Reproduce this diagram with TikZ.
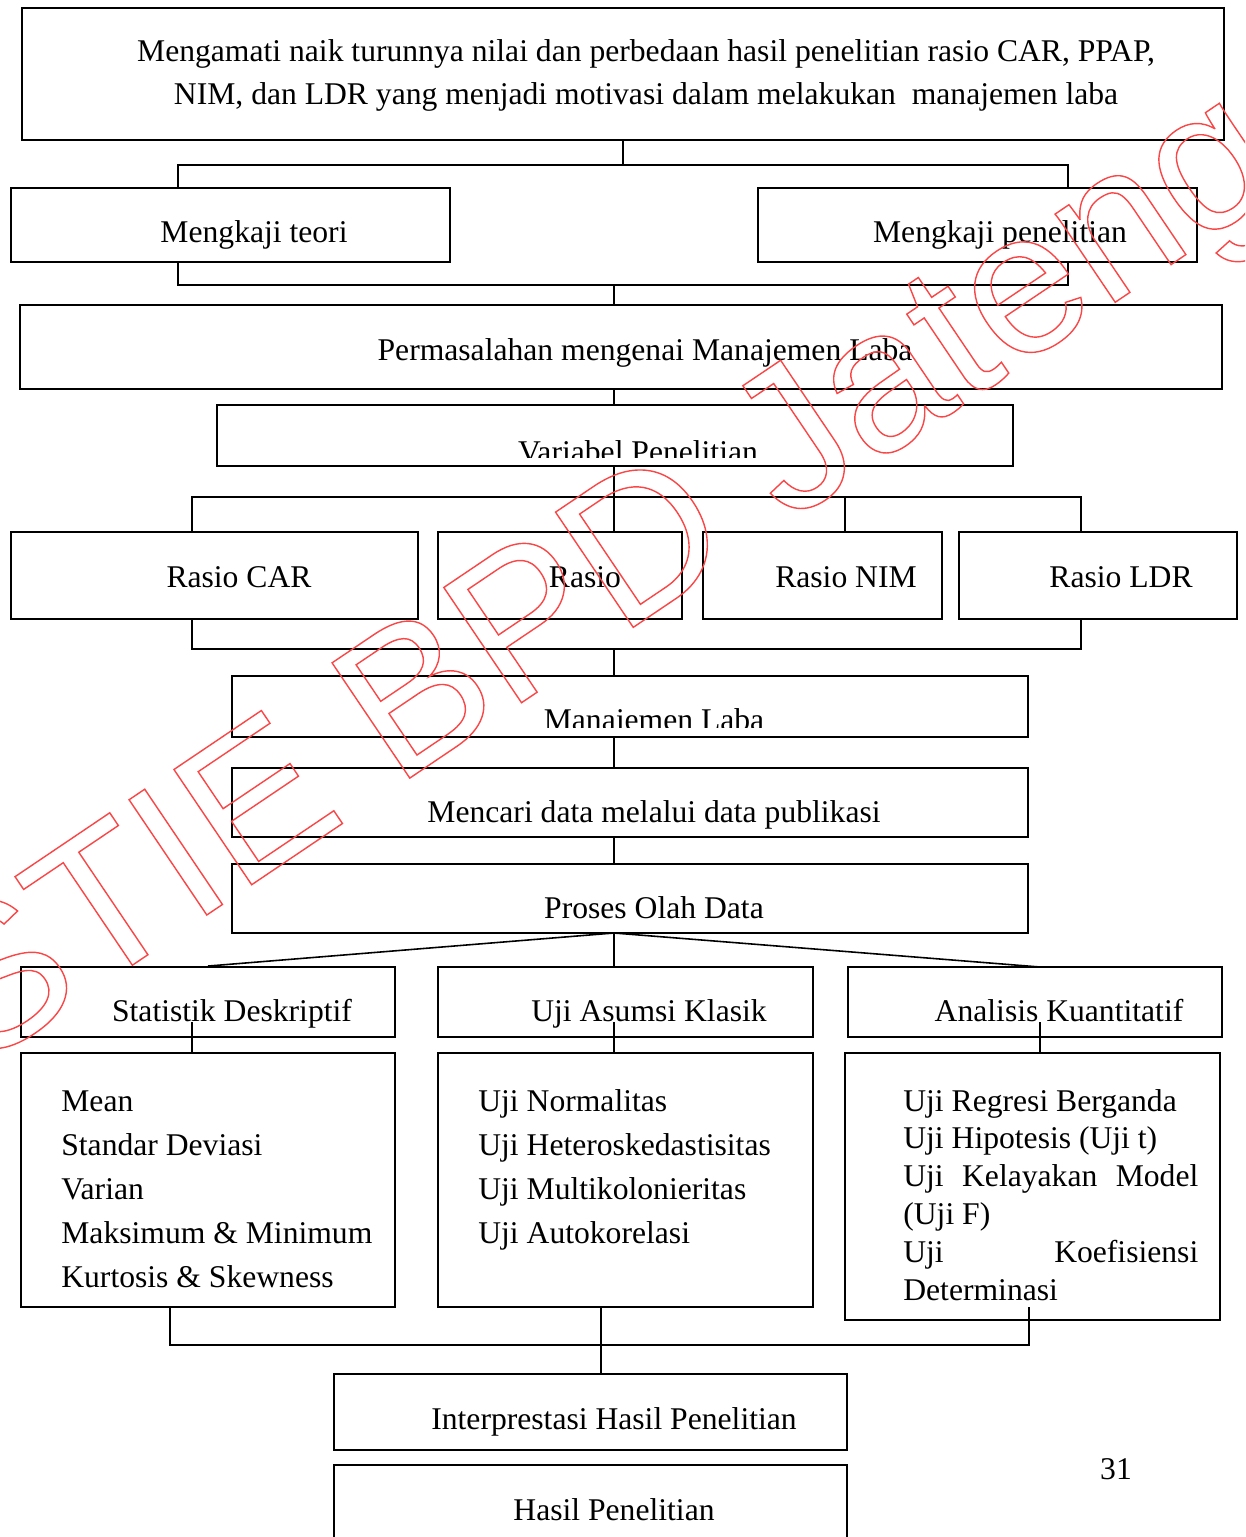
\documentclass[tikz,border=0pt]{standalone}
\usepackage{fontspec}
\setmainfont{Liberation Serif}
\newfontfamily\wmfont{Liberation Sans}
\usetikzlibrary{calc,positioning}
\definecolor{merahwm}{RGB}{250,70,70}

\begin{document}
\begin{tikzpicture}[x=0.02cm,y=-0.02cm,
    kotak/.style={draw,line width=1.1pt,inner sep=0pt},
    garis/.style={line width=0.9pt},
    teks/.style={inner sep=0pt,anchor=base,font=\fontsize{18}{25}\selectfont}]
  \useasboundingbox (0,0) rectangle (1245,1537);
  \clip (0,0) rectangle (1245,1537);

  % kotak-kotak
  \node[kotak,minimum width=24.04cm,minimum height=2.64cm] (atas) at (623,74) {};
  \node[kotak,minimum width=8.78cm,minimum height=1.48cm] (teori) at (230.5,225) {};
  \node[kotak,minimum width=8.78cm,minimum height=1.48cm] (penelitian) at (977.5,225) {};
  \node[kotak,minimum width=24.04cm,minimum height=1.68cm] (masalah) at (621,347) {};
  \node[kotak,minimum width=15.92cm,minimum height=1.22cm] (variabel) at (615,435.5) {};
  \node[kotak,minimum width=8.14cm,minimum height=1.74cm] (car) at (214.5,575.5) {};
  \node[kotak,minimum width=4.88cm,minimum height=1.74cm] (ppap) at (560,575.5) {};
  \node[kotak,minimum width=4.78cm,minimum height=1.74cm] (nim) at (822.5,575.5) {};
  \node[kotak,minimum width=5.56cm,minimum height=1.74cm] (ldr) at (1098,575.5) {};
  \node[kotak,minimum width=15.92cm,minimum height=1.22cm] (manajemen) at (630,706.5) {};
  \node[kotak,minimum width=15.92cm,minimum height=1.38cm] (mencari) at (630,802.5) {};
  \node[kotak,minimum width=15.92cm,minimum height=1.38cm] (proses) at (630,898.5) {};
  \node[kotak,minimum width=7.48cm,minimum height=1.4cm] (statistik) at (208,1002) {};
  \node[kotak,minimum width=7.5cm,minimum height=1.4cm] (asumsi) at (625.5,1002) {};
  \node[kotak,minimum width=7.48cm,minimum height=1.4cm] (analisis) at (1035,1002) {};
  \node[kotak,minimum width=7.48cm,minimum height=5.08cm] (isi-stat) at (208,1180) {};
  \node[kotak,minimum width=7.5cm,minimum height=5.08cm] (isi-asumsi) at (625.5,1180) {};
  \node[kotak,minimum width=7.5cm,minimum height=5.34cm] (isi-analisis) at (1032.5,1186.5) {};
  \node[kotak,minimum width=10.26cm,minimum height=1.52cm] (interpretasi) at (590.5,1412) {};
  \node[kotak,minimum width=10.26cm,minimum height=1.7cm] (hasil) at (590.5,1507.5) {};

  % teks (base dari teks berbaris banyak = baris terakhir)
  \node[teks,align=center] (atas-t) at (646,105) {Mengamati naik turunnya nilai dan perbedaan hasil penelitian rasio CAR, PPAP,\\NIM, dan LDR yang menjadi motivasi dalam melakukan\ \ manajemen laba};
  \node[teks] (teori-t) at (254,243) {Mengkaji teori};
  \node[teks] (penelitian-t) at (1000,243) {Mengkaji penelitian};
  \node[teks] (masalah-t) at (645,360) {Permasalahan mengenai Manajemen Laba};
  \begin{scope}
    \clip (variabel.north west) rectangle ([yshift=0.18cm]variabel.south east);
    \node[teks] (variabel-t) at (638,462) {Variabel Penelitian};
  \end{scope}
  \node[teks] (car-t) at (239,587) {Rasio CAR};
  \node[teks] (ppap-t) at (585,587) {Rasio};
  \node[teks] (nim-t) at (846,587) {Rasio NIM};
  \node[teks] (ldr-t) at (1121,587) {Rasio LDR};
  \begin{scope}
    \clip (manajemen.north west) rectangle ([yshift=0.2cm]manajemen.south east);
    \node[teks] (manajemen-t) at (654,730) {Manajemen Laba};
  \end{scope}
  \node[teks] (mencari-t) at (654,822) {Mencari data melalui data publikasi};
  \node[teks] (proses-t) at (654,918) {Proses Olah Data};
  \node[teks] (statistik-t) at (232,1021) {Statistik Deskriptif};
  \node[teks] (asumsi-t) at (649,1021) {Uji Asumsi Klasik};
  \node[teks] (analisis-t) at (1059,1021) {Analisis Kuantitatif};
  \node[teks,anchor=base west,align=left] (isi-stat-t) at (61,1287)
    {Mean\\Standar Deviasi\\Varian\\Maksimum \& Minimum\\Kurtosis \& Skewness};
  \node[teks,anchor=base west,align=left] (isi-asumsi-t) at (478,1243)
    {Uji Normalitas\\Uji Heteroskedastisitas\\Uji Multikolonieritas\\Uji Autokorelasi};
  \node[teks,anchor=base west,align=left,font=\fontsize{18}{21.5}\selectfont] (isi-analisis-t) at (903,1300)
    {Uji Regresi Berganda\\Uji Hipotesis (Uji t)\\\makebox[5.9cm][s]{Uji Kelayakan Model}\\(Uji F)\\\makebox[5.9cm][s]{Uji Koefisiensi}\\Determinasi};
  \node[teks] (interpretasi-t) at (614,1429) {Interprestasi Hasil Penelitian};
  \node[teks] (hasil-t) at (614,1520) {Hasil Penelitian};
  \node[teks] (hal) at (1116,1479) {31};

  % garis penghubung
  \coordinate (b1l) at (178,165);
  \coordinate (b1r) at (1068,165);
  \draw[garis] (atas.south) -- (atas.south |- b1l);
  \draw[garis] (b1l |- teori.north) -- (b1l) -- (b1r) -- (b1r |- penelitian.north);
  \coordinate (b2l) at (178,285);
  \coordinate (b2r) at (1068,285);
  \coordinate (b2m) at (614,285);
  \draw[garis] (b2l |- teori.south) -- (b2l) -- (b2r) -- (b2r |- penelitian.south);
  \draw[garis] (b2m) -- (b2m |- masalah.north);
  \draw[garis] (b2m |- masalah.south) -- (b2m |- variabel.north);
  \coordinate (b3l) at (192,497);
  \coordinate (b3r) at (1081,497);
  \coordinate (b3n) at (845,497);
  \draw[garis] (b3l |- car.north) -- (b3l) -- (b3r) -- (b3r |- ldr.north);
  \draw[garis] (b2m |- variabel.south) -- (b2m |- ppap.north);
  \draw[garis] (b3n) -- (b3n |- nim.north);
  \coordinate (b4l) at (192,649);
  \coordinate (b4r) at (1081,649);
  \coordinate (b4m) at (614,649);
  \draw[garis] (b4l |- car.south) -- (b4l) -- (b4r) -- (b4r |- ldr.south);
  \draw[garis] (b4m) -- (b4m |- manajemen.north);
  \draw[garis] (b4m |- manajemen.south) -- (b4m |- mencari.north);
  \draw[garis] (b4m |- mencari.south) -- (b4m |- proses.north);
  \coordinate (cabang) at (614,933);
  \draw[garis] (cabang) -- (statistik.north);
  \draw[garis] (cabang) -- (cabang |- asumsi.north);
  \draw[garis] (cabang) -- (1040,967);
  \coordinate (s1) at (192,1022);
  \coordinate (s2) at (614,1022);
  \coordinate (s3) at (1040,1022);
  \draw[garis] (s1) -- (s1 |- isi-stat.north);
  \draw[garis] (s2) -- (s2 |- isi-asumsi.north);
  \draw[garis] (s3) -- (s3 |- isi-analisis.north);
  \coordinate (b5l) at (170,1345);
  \coordinate (b5r) at (1029,1345);
  \coordinate (b5m) at (601,1345);
  \draw[garis] (b5l |- isi-stat.south) -- (b5l) -- (b5r) -- (1029,1307);
  \draw[garis] (b5m |- isi-asumsi.south) -- (b5m |- interpretasi.north);

  % tanda air
  \node[rotate=34,anchor=base west,inner sep=0pt,text=merahwm] (tanda) at (-23,1070)
    {\wmfont\fontsize{115}{115}\selectfont\special{pdf:literal direct 1 Tr 0.8 w}STIE BPD Jateng\special{pdf:literal direct 0 Tr}};
\end{tikzpicture}
\end{document}
